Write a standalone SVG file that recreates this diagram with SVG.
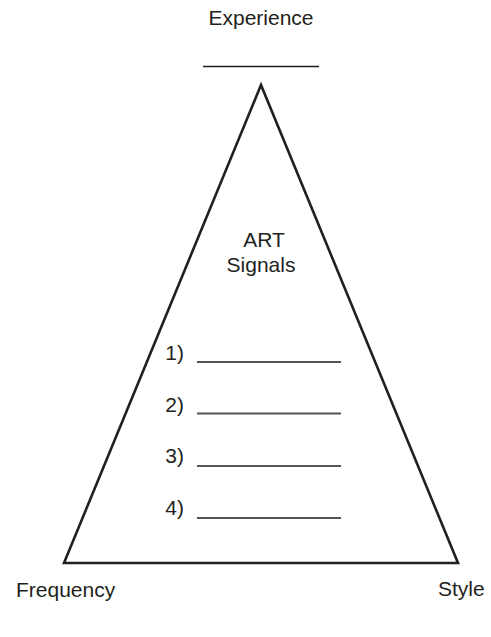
<svg xmlns="http://www.w3.org/2000/svg" width="491" height="637" viewBox="0 0 491 637">
<style>
text{font-family:"Liberation Sans",Arial,sans-serif;font-size:21px;fill:#231f20}
.c{text-anchor:middle}
.n{text-anchor:end}
.blank{stroke:#555;stroke-width:2}
.blank.dk{stroke:#231f20;stroke-width:1.6}
</style>
<rect width="491" height="637" fill="#fff"/>
<g id="pyramid">
<path d="M261,85 L64,563 L458,563 Z" fill="none" stroke="#231f20" stroke-width="2.6" stroke-linejoin="miter"/>
</g>
<g id="experience">
<text class="c" x="261" y="25">Experience</text>
<line x1="203" y1="66.5" x2="319" y2="66.5" stroke="#231f20" stroke-width="1.6"/>
</g>
<g id="title">
<text class="c" x="264" y="247">ART</text>
<text class="c" x="261" y="272">Signals</text>
</g>
<g id="item1"><text class="n" x="184" y="360">1)</text><line class="blank" x1="197" y1="362" x2="341" y2="362"/></g>
<g id="item2"><text class="n" x="184" y="412">2)</text><line class="blank" x1="197" y1="413.5" x2="341" y2="413.5"/></g>
<g id="item3"><text class="n" x="184" y="463">3)</text><line class="blank dk" x1="197" y1="466" x2="341" y2="466"/></g>
<g id="item4"><text class="n" x="184" y="515">4)</text><line class="blank" x1="197" y1="518" x2="341" y2="518"/></g>
<g id="frequency"><text x="16" y="597">Frequency</text></g>
<g id="style"><text x="438" y="596">Style</text></g>
<g id="connectors"></g>
</svg>
